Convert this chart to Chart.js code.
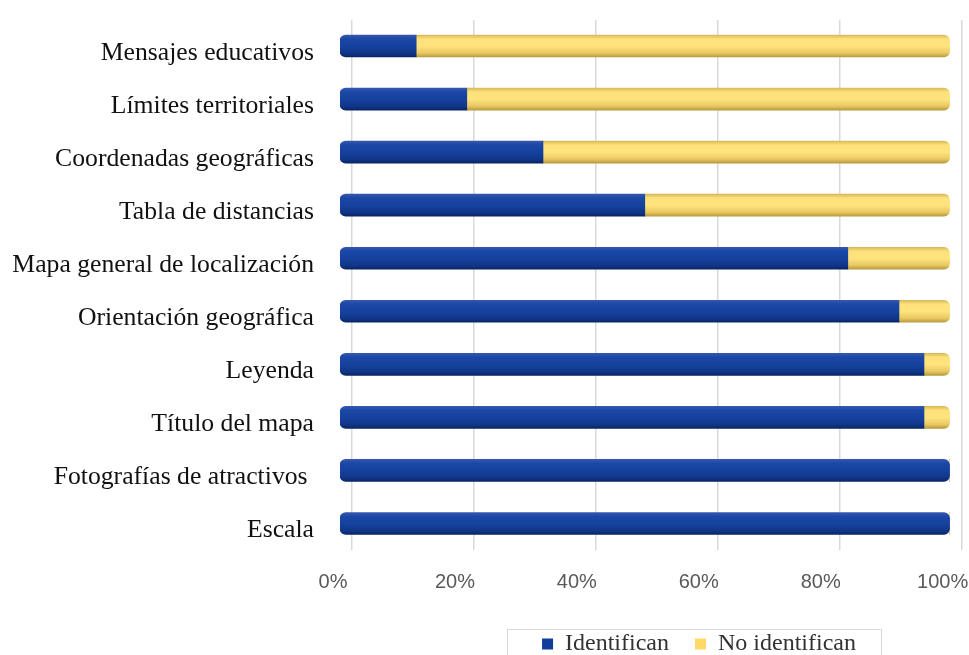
<!DOCTYPE html>
<html>
<head>
<meta charset="utf-8">
<script src="https://cdn.jsdelivr.net/npm/chart.js@4.4.1/dist/chart.umd.min.js"></script>
<style>
  html, body { margin: 0; padding: 0; background: #ffffff; }
  #wrap { position: relative; width: 969px; height: 655px; }
</style>
</head>
<body>
<div id="wrap"><canvas id="c"></canvas></div>
<script>
// ---- data ----
const categories = [
  "Mensajes educativos",
  "Límites territoriales",
  "Coordenadas geográficas",
  "Tabla de distancias",
  "Mapa general de localización",
  "Orientación geográfica",
  "Leyenda",
  "Título del mapa",
  "Fotografías de atractivos ",
  "Escala"
];
const seriesNames = ["Identifican", "No identifican"];
const identifican   = [12.5, 20.8, 33.3, 50.0, 83.3, 91.7, 95.8, 95.8, 100, 100];
const noIdentifican = [87.5, 79.2, 66.7, 50.0, 16.7,  8.3,  4.2,  4.2,   0,   0];
const xTickValues = [0, 20, 40, 60, 80, 100];

// ---- styles ----
const BAR_THICK = 22;
const solidColors = ['#103c9c', '#ffd966'];
const blueStops = [[0, '#3557ad'], [0.18, '#1b47a6'], [0.55, '#15409c'], [0.85, '#0f3586'], [1, '#0a2463']];
const yellowStops = [[0, '#d9b957'], [0.18, '#fde27c'], [0.5, '#ffe47e'], [0.82, '#e9c862'], [1, '#b89a40']];
const LEGEND_CX = 699, LEGEND_CY = 644;

function cylinder(stops, solid) {
  return (ctx) => {
    const chart = ctx.chart;
    if (ctx.type !== 'data' || !chart.chartArea || !chart.scales.y) return solid;
    const y = chart.scales.y.getPixelForValue(ctx.dataIndex);
    const h = BAR_THICK / 2;
    const g = chart.ctx.createLinearGradient(0, y - h, 0, y + h);
    stops.forEach(([o, c]) => g.addColorStop(o, c));
    return g;
  };
}

const legendFrame = {
  id: 'legendFrame',
  afterLayout(chart) {
    const lg = chart.legend;
    if (!lg) return;
    const pad = lg.options.labels.padding;
    const dx = LEGEND_CX - (lg.left + lg.right) / 2;
    lg.left += dx; lg.right += dx;
    const hbs = lg.legendHitBoxes;
    const ih = (hbs && hbs.length) ? hbs[0].height : 24;
    const dy = LEGEND_CY - (lg.top + pad + ih / 2);
    lg.top += dy; lg.bottom += dy;
  },
  afterDraw(chart) {
    const lg = chart.legend;
    if (!lg || !lg.legendHitBoxes || !lg.legendHitBoxes.length) return;
    const hbs = lg.legendHitBoxes;
    const first = hbs[0], last = hbs[hbs.length - 1];
    const c = first.top + first.height / 2;
    const ctx = chart.ctx;
    ctx.save();
    ctx.strokeStyle = '#d9d9d9';
    ctx.lineWidth = 1;
    const l = Math.round(first.left - 35) + 0.5;
    const r = Math.round(last.left + last.width + 25) + 0.5;
    ctx.strokeRect(l, Math.round(c - 15) + 0.5, r - l, 40);
    ctx.restore();
  }
};

new Chart(document.getElementById('c'), {
  type: 'bar',
  data: {
    labels: categories,
    datasets: [
      {
        label: seriesNames[0],
        data: identifican,
        backgroundColor: cylinder(blueStops, solidColors[0]),
        borderWidth: 0,
        borderSkipped: false,
        barThickness: BAR_THICK,
        borderRadius: (ctx) => {
          const full = noIdentifican[ctx.dataIndex] === 0;
          return { topLeft: 6, bottomLeft: 6, topRight: full ? 6 : 0, bottomRight: full ? 6 : 0 };
        }
      },
      {
        label: seriesNames[1],
        data: noIdentifican,
        backgroundColor: cylinder(yellowStops, solidColors[1]),
        borderWidth: 0,
        borderSkipped: false,
        barThickness: BAR_THICK,
        borderRadius: { topLeft: 0, bottomLeft: 0, topRight: 6, bottomRight: 6 }
      }
    ]
  },
  options: {
    indexAxis: 'y',
    responsive: true,
    maintainAspectRatio: false,
    animation: false,
    layout: { padding: { left: 10, right: 6, top: 19.5, bottom: 0 } },
    scales: {
      x: {
        stacked: true,
        min: 0,
        max: 102.2,
        position: 'bottom',
        grid: { display: false, drawTicks: false },
        border: { display: false },
        afterBuildTicks: (scale) => { scale.ticks = xTickValues.map(v => ({ value: v })); },
        afterFit: (scale) => { scale.height = 45; scale.paddingLeft = 0; scale.paddingRight = 0; },
        ticks: {
          padding: 20,
          labelOffset: -7,
          maxRotation: 0,
          color: '#595959',
          font: { family: 'Liberation Sans', size: 20 },
          callback: (v) => v + '%'
        }
      },
      x2: {
        type: 'linear',
        position: 'top',
        min: -1.97,
        max: 100.23,
        grid: { color: '#d9d9d9', lineWidth: 1.5, drawTicks: false },
        border: { display: false },
        afterBuildTicks: (scale) => { scale.ticks = xTickValues.map(v => ({ value: v })); },
        afterFit: (scale) => { scale.height = 0; scale.paddingLeft = 0; scale.paddingRight = 0; },
        ticks: { display: false }
      },
      y: {
        stacked: true,
        grid: { display: false, drawTicks: false },
        border: { display: false },
        afterFit: (scale) => { scale.width = 330; scale.paddingTop = 0; scale.paddingBottom = 0; },
        ticks: {
          padding: 26,
          color: '#111111',
          font: { family: 'Liberation Serif', size: 25.7, lineHeight: '14px' },
          callback: function (v) { return ['', this.getLabelForValue(v)]; }
        }
      }
    },
    plugins: {
      legend: {
        position: 'bottom',
        labels: {
          boxWidth: 11,
          boxHeight: 11,
          padding: 26,
          color: '#333333',
          font: { family: 'Liberation Serif', size: 24 },
          generateLabels: (chart) => {
            const items = Chart.defaults.plugins.legend.labels.generateLabels(chart);
            items.forEach((it, i) => { it.fillStyle = solidColors[i]; it.strokeStyle = solidColors[i]; it.lineWidth = 0; });
            return items;
          }
        }
      },
      tooltip: { enabled: false }
    }
  },
  plugins: [legendFrame]
});
</script>
</body>
</html>
